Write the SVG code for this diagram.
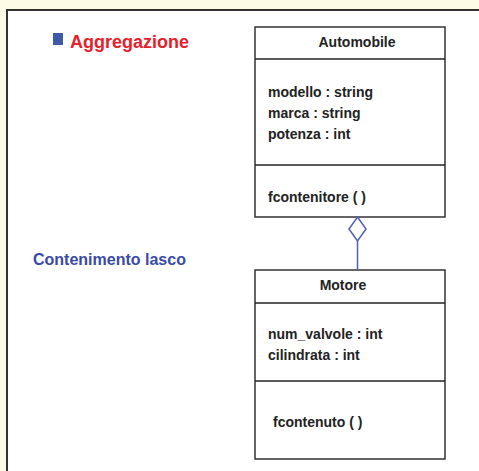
<svg xmlns="http://www.w3.org/2000/svg" width="479" height="471" viewBox="0 0 479 471">
<style>
.box{fill:#fff;stroke:#333;stroke-width:1.5}
.div{stroke:#222;stroke-width:1.5}
.t{font-family:"Liberation Sans",Arial,sans-serif;font-weight:bold;font-size:14px;fill:#222}
.c{text-anchor:middle}
</style>
<rect x="0" y="0" width="479" height="471" fill="#fdfbe6"/>
<rect x="7" y="10" width="490" height="480" fill="#fff" stroke="#333" stroke-width="2"/>
<g id="title">
<rect x="53" y="33" width="10" height="12" fill="#3d5aa8"/>
<text x="70" y="48" font-family="Liberation Sans,Arial,sans-serif" font-weight="bold" font-size="18" fill="#e8202a">Aggregazione</text>
</g>
<g id="label">
<text x="33" y="265" font-family="Liberation Sans,Arial,sans-serif" font-weight="bold" font-size="16" fill="#3a4aa8">Contenimento lasco</text>
</g>
<g id="automobile">
<rect class="box" x="255" y="27" width="190" height="190"/>
<line class="div" x1="255" y1="59" x2="445" y2="59"/>
<line class="div" x1="255" y1="165" x2="445" y2="165"/>
<text class="t c" x="357" y="47">Automobile</text>
<text class="t" x="268" y="97">modello : string</text>
<text class="t" x="268" y="118">marca : string</text>
<text class="t" x="268" y="139">potenza : int</text>
<text class="t" x="268" y="202">fcontenitore ( )</text>
</g>
<g id="motore">
<rect class="box" x="255" y="270" width="190" height="189"/>
<line class="div" x1="255" y1="303" x2="445" y2="303"/>
<line class="div" x1="255" y1="381" x2="445" y2="381"/>
<text class="t c" x="343" y="290">Motore</text>
<text class="t" x="268" y="339">num_valvole : int</text>
<text class="t" x="268" y="360">cilindrata : int</text>
<text class="t" x="273" y="427">fcontenuto ( )</text>
</g>
<g id="connectors">
<polygon points="357.5,217 366,229 357.5,241 349,229" fill="#fff" stroke="#5060b0" stroke-width="1.5"/>
<line x1="357.5" y1="241" x2="357.5" y2="270" stroke="#5060b0" stroke-width="1.5"/>
</g>
</svg>
